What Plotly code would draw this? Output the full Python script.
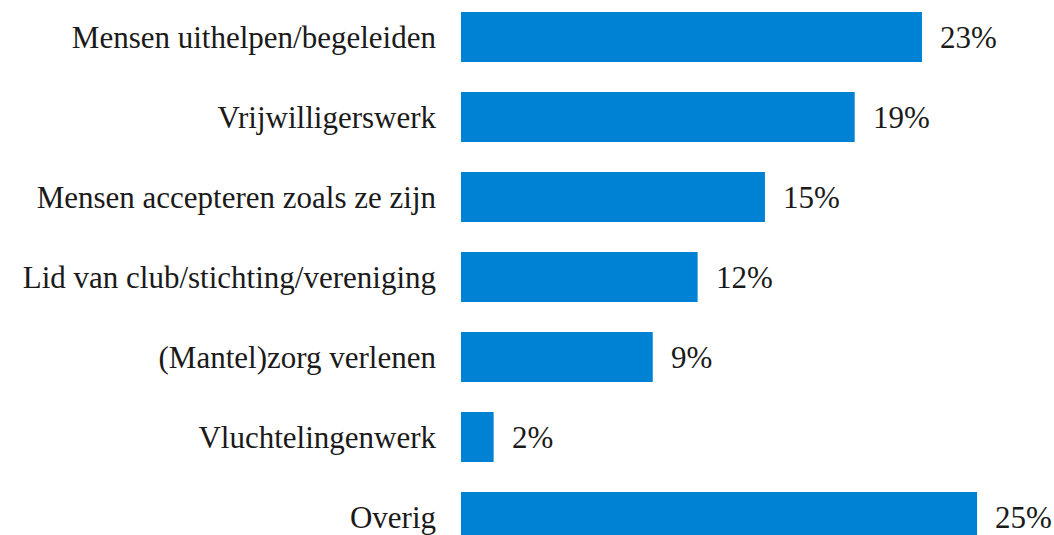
import plotly.graph_objects as go

categories = [
    "Mensen uithelpen/begeleiden",
    "Vrijwilligerswerk",
    "Mensen accepteren zoals ze zijn",
    "Lid van club/stichting/vereniging",
    "(Mantel)zorg verlenen",
    "Vluchtelingenwerk",
    "Overig",
]
values = [22.6, 19.3, 14.9, 11.6, 9.4, 1.6, 25.3]
labels = ["23%", "19%", "15%", "12%", "9%", "2%", "25%"]

bar_color = "#0082D4"
font_family = "Liberation Serif, Times New Roman, serif"
text_color = "#1a1a1a"

fig = go.Figure(
    go.Bar(
        x=values,
        y=categories,
        orientation="h",
        marker=dict(color=bar_color, line=dict(width=0)),
        hoverinfo="skip",
    )
)

for c, v, t in zip(categories, values, labels):
    fig.add_annotation(
        x=v, y=c, text=t, showarrow=False, xanchor="left", yanchor="middle",
        xshift=16, font=dict(family=font_family, size=31, color=text_color),
    )

fig.update_layout(
    width=1054,
    height=535,
    margin=dict(l=461, r=0, t=0, b=0, autoexpand=False),
    paper_bgcolor="white",
    plot_bgcolor="white",
    bargap=0.375,
    showlegend=False,
    xaxis=dict(range=[0, 29.07], visible=False, fixedrange=True, automargin=False),
    yaxis=dict(
        categoryorder="array",
        categoryarray=categories,
        range=[6.225, -0.4625],
        automargin=False,
        fixedrange=True,
        showgrid=False,
        zeroline=False,
        showline=False,
        ticks="",
        ticklabelstandoff=24,
        tickfont=dict(family=font_family, size=31, color=text_color),
    ),
)

fig.write_html(
    "out.html",
    config={"displayModeBar": False, "staticPlot": True},
    post_script="document.body.style.margin='0';document.body.style.overflow='hidden';",
)
